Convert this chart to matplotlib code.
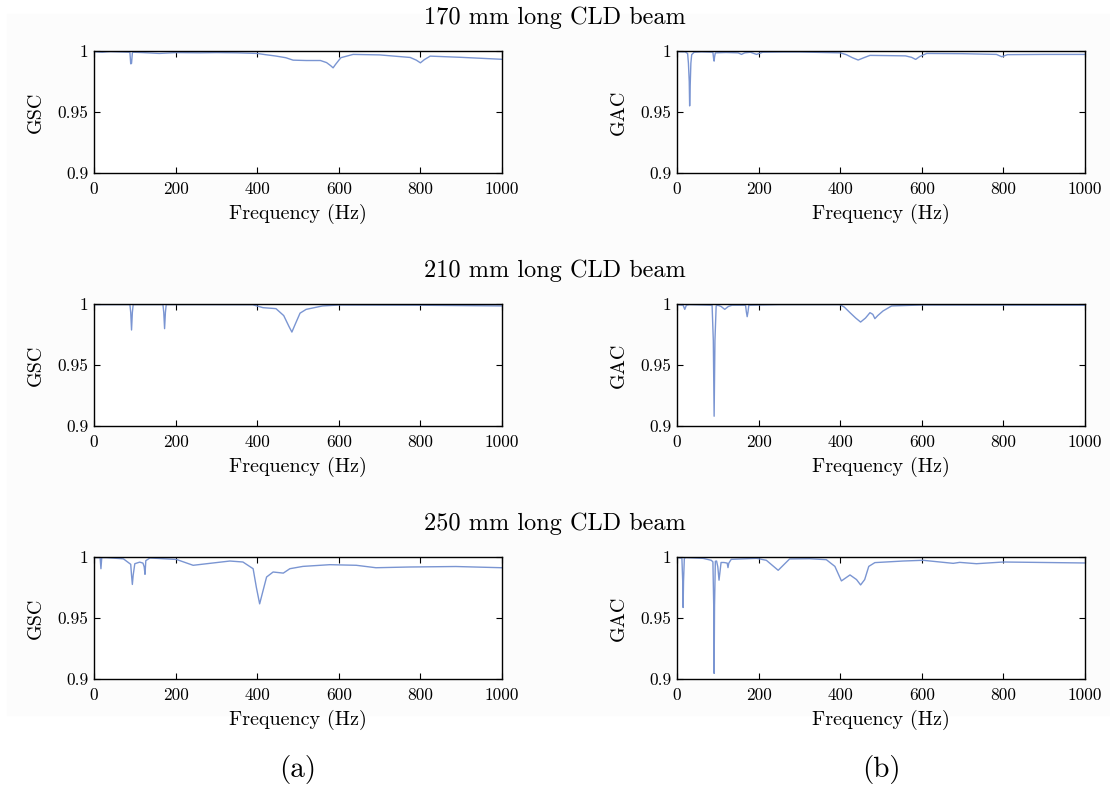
import matplotlib
matplotlib.use('Agg')

import numpy as np
import matplotlib.pyplot as plt
from matplotlib.patches import Rectangle

plt.rcParams['font.family'] = 'serif'
plt.rcParams['font.serif'] = ['cmr10']
plt.rcParams['mathtext.fontset'] = 'cm'
plt.rcParams['axes.formatter.use_mathtext'] = True

# coherence curves, (frequency Hz, value) breakpoints
f_gsc_170 = [0, 10, 20, 30, 40, 88, 90, 92, 94, 96, 120, 160, 200, 260, 300, 350, 400,
             420, 445, 470, 488, 520, 555, 570, 580, 586, 592, 605, 635, 700, 775,
             790, 800, 810, 824, 900, 1000]
gsc_170 = [0.9995, 0.9992, 0.999, 0.9993, 0.9995, 0.999, 0.9895, 0.9898, 0.9985, 0.999,
           0.9987, 0.998, 0.9987, 0.9985, 0.9987, 0.9985, 0.998, 0.997, 0.9959, 0.9945,
           0.9925, 0.9922, 0.9922, 0.9905, 0.988, 0.9862, 0.989, 0.9945, 0.9972, 0.9968,
           0.9947, 0.9925, 0.9903, 0.993, 0.9958, 0.9948, 0.9932]

f_gac_170 = [0, 20, 26, 28, 30, 31, 32, 34, 36, 42, 60, 88, 90, 91, 92, 94, 120, 150,
             158, 166, 180, 195, 210, 260, 300, 400, 415, 430, 444, 458, 473, 520, 560,
             575, 585, 595, 612, 700, 783, 796, 810, 900, 1000]
gac_170 = [0.9995, 0.9993, 0.998, 0.99, 0.975, 0.955, 0.968, 0.99, 0.997, 0.999, 0.9993,
           0.999, 0.993, 0.9917, 0.995, 0.9985, 0.9988, 0.9985, 0.9972, 0.9985, 0.999,
           0.9972, 0.999, 0.9992, 0.9992, 0.9985, 0.997, 0.9945, 0.9926, 0.9945, 0.9964,
           0.9962, 0.996, 0.9948, 0.9931, 0.9955, 0.998, 0.9978, 0.9972, 0.9953, 0.997,
           0.9972, 0.9972]

f_gsc_210 = [0, 88, 90, 92, 94, 96, 169, 171, 173, 175, 177, 250, 389, 414, 446, 465,
             478, 485, 492, 505, 520, 560, 601, 800, 1000]
gsc_210 = [0.9995, 0.9995, 0.993, 0.9787, 0.993, 0.9995, 0.9995, 0.993, 0.9798, 0.993,
           0.9995, 0.9995, 0.9994, 0.997, 0.9962, 0.9905, 0.9815, 0.977, 0.9825, 0.9925,
           0.9956, 0.9984, 0.9992, 0.999, 0.9984]

f_gac_210 = [0, 15, 19, 23, 30, 86, 89, 91, 93, 96, 100, 108, 117, 126, 135, 168, 170,
             172, 174, 176, 250, 399, 410, 424, 438, 450, 462, 473, 480, 485, 492, 505,
             526, 600, 1000]
gac_210 = [0.9995, 0.999, 0.9956, 0.999, 0.9995, 0.999, 0.97, 0.908, 0.97, 0.9985,
           0.999, 0.998, 0.9956, 0.998, 0.999, 0.999, 0.9935, 0.9896, 0.9935, 0.999,
           0.9995, 0.9995, 0.9975, 0.9929, 0.9885, 0.9852, 0.9885, 0.9929, 0.9915,
           0.988, 0.9905, 0.9943, 0.9984, 0.9992, 0.999]

f_gsc_250 = [0, 15, 17, 19, 30, 72, 90, 92, 94, 96, 100, 112, 120, 123, 125, 127, 137,
             202, 243, 333, 365, 390, 398, 406, 414, 423, 439, 464, 480, 512, 578, 643,
             691, 773, 887, 1000]
gsc_250 = [0.9995, 0.9995, 0.9904, 0.9995, 0.9995, 0.9985, 0.994, 0.985, 0.9775, 0.985,
           0.9945, 0.9958, 0.995, 0.992, 0.9858, 0.997, 0.9992, 0.998, 0.9932, 0.9967,
           0.9959, 0.9904, 0.975, 0.9616, 0.972, 0.9836, 0.9877, 0.9868, 0.9904, 0.9923,
           0.9937, 0.9932, 0.9912, 0.9918, 0.9922, 0.9912]

f_gac_250 = [0, 12, 14, 15, 16, 18, 22, 64, 84, 88, 90, 91, 92, 94, 97, 100, 103, 108,
             115, 123, 125, 127, 133, 195, 219, 248, 276, 325, 366, 387, 403, 424, 440,
             450, 460, 470, 485, 554, 603, 677, 693, 734, 800, 1000]
gac_250 = [0.9995, 0.999, 0.98, 0.9586, 0.98, 0.999, 0.9995, 0.9989, 0.9973, 0.996,
           0.96, 0.9046, 0.96, 0.9965, 0.9967, 0.992, 0.981, 0.9955, 0.9955, 0.995,
           0.9913, 0.995, 0.9981, 0.9989, 0.9973, 0.9891, 0.9984, 0.9986, 0.9978,
           0.9923, 0.9804, 0.9853, 0.9815, 0.9771, 0.9815, 0.9923, 0.9954, 0.9967,
           0.9973, 0.9948, 0.9956, 0.9945, 0.9959, 0.9951]

titles = ['170 mm long CLD beam', '210 mm long CLD beam', '250 mm long CLD beam']
freq_ticks = [0, 200, 400, 600, 800, 1000]
coh_ticks = [0.9, 0.95, 1]
coh_tick_labels = ['0.9', '0.95', '1']

curves = [
    [(f_gsc_170, gsc_170, 'GSC'), (f_gac_170, gac_170, 'GAC')],
    [(f_gsc_210, gsc_210, 'GSC'), (f_gac_210, gac_210, 'GAC')],
    [(f_gsc_250, gsc_250, 'GSC'), (f_gac_250, gac_250, 'GAC')],
]

W, H = 1110, 789
fig = plt.figure(figsize=(W / 100, H / 100), dpi=100)

# faint grey page behind the panels
fig.patches.append(Rectangle((7 / W, 1 - 715 / H), 1103 / W, 701 / H,
                             transform=fig.transFigure, color='#fcfcfc', zorder=-10))

col_left = [94, 677]
row_top = [51, 304, 557]
ax_w, ax_h = 408, 122
line_color = '#7a95d2'

for r in range(3):
    for c in range(2):
        f, v, name = curves[r][c]
        ax = fig.add_axes([col_left[c] / W, 1 - (row_top[r] + ax_h) / H, ax_w / W, ax_h / H])
        ax.plot(f, v, color=line_color, lw=1.0)
        ax.set_xlim(0, 1000)
        ax.set_ylim(0.9, 1.0)
        ax.set_xticks(freq_ticks)
        ax.set_xticklabels([str(t) for t in freq_ticks])
        ax.set_yticks(coh_ticks)
        ax.set_yticklabels(coh_tick_labels)
        ax.tick_params(direction='in', top=True, right=True, length=4.5, width=0.8,
                       labelsize=12.5)
        ax.tick_params(axis='x', pad=6)
        ax.tick_params(axis='y', pad=4)
        for sp in ax.spines.values():
            sp.set_linewidth(1.0)
        ax.set_xlabel('Frequency (Hz)', fontsize=14.5, labelpad=5)
        ax.set_ylabel(name, fontsize=14.5, labelpad=9)
    fig.text(555 / W, 1 - (row_top[r] - 33) / H, titles[r], ha='center', va='center',
             fontsize=17.5)

fig.text(298 / W, 1 - 770 / H, '(a)', ha='center', va='center', fontsize=21)
fig.text(881 / W, 1 - 770 / H, '(b)', ha='center', va='center', fontsize=21)

fig.savefig('out.png', dpi=100)
